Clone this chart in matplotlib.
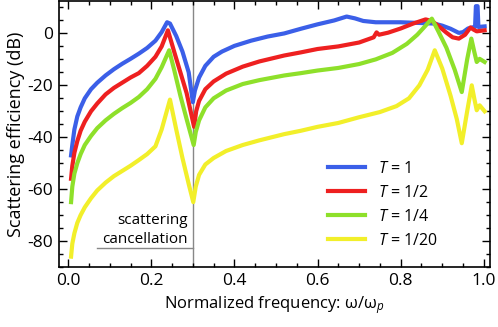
import numpy as np
import matplotlib
matplotlib.use("Agg")
import matplotlib.pyplot as plt

plt.rcParams['font.family'] = ['Open Sans', 'DejaVu Sans']
plt.rcParams['mathtext.fontset'] = 'custom'
plt.rcParams['mathtext.rm'] = 'Open Sans'
plt.rcParams['mathtext.it'] = 'Open Sans:italic'

# T = 1
x_t1 = [0.007, 0.010, 0.015, 0.022, 0.030, 0.040, 0.055, 0.07, 0.09, 0.11, 0.13, 0.15, 0.17,
        0.19, 0.21, 0.225, 0.238, 0.245, 0.26, 0.275, 0.29, 0.300, 0.305, 0.315, 0.33, 0.35,
        0.37, 0.40, 0.44, 0.48, 0.52, 0.56, 0.60, 0.64, 0.67, 0.69, 0.71, 0.74, 0.80, 0.85,
        0.88, 0.90, 0.92, 0.94, 0.95, 0.962, 0.975, 0.979, 0.981, 0.985, 0.987, 1.002]
y_t1 = [-47, -43, -37, -32, -28.5, -25, -21.5, -19, -16.2, -13.8, -11.7, -9.8, -7.8,
        -5.6, -2.8, 0.5, 4.3, 3.8, -1, -7, -15, -26.5, -22, -17, -12.5, -9,
        -7, -4.8, -2.8, -1.2, 0, 1.8, 3.5, 5, 6.5, 5.8, 4.8, 4.3, 4.3, 4,
        3.8, 3, 1.8, 0.2, 0.5, 1.9, 2.4, 2.5, 10.5, 10.5, 2.5, 2.7]

# T = 1/2
x_t2 = [0.007, 0.010, 0.015, 0.022, 0.030, 0.040, 0.055, 0.07, 0.09, 0.11, 0.13, 0.15, 0.17,
        0.19, 0.21, 0.225, 0.240, 0.255, 0.27, 0.285, 0.303, 0.308, 0.315, 0.33, 0.35, 0.38,
        0.42, 0.46, 0.52, 0.56, 0.60, 0.65, 0.70, 0.735, 0.742, 0.748, 0.77, 0.80, 0.83, 0.86,
        0.875, 0.89, 0.91, 0.925, 0.94, 0.955, 0.968, 0.975, 0.983, 1.002]
y_t2 = [-56, -51, -46, -41.5, -37.5, -34, -30, -27, -23.5, -21, -19, -17, -15.3,
        -12.5, -9, -5, 1.2, -7, -15, -23, -36, -30, -26, -21.5, -18.5, -15.5,
        -12.8, -10.8, -8.5, -7.3, -6, -5, -3.5, -1.5, 0.4, -0.5, 0.3, 1.9, 3.8, 5.4,
        4.8, 3, 0.3, -1.5, -2, -0.5, 2.3, 1.5, 0.8, 1.2]

# T = 1/4
x_t4 = [0.007, 0.010, 0.015, 0.022, 0.030, 0.040, 0.055, 0.07, 0.09, 0.11, 0.13, 0.15, 0.17,
        0.19, 0.21, 0.225, 0.243, 0.255, 0.27, 0.285, 0.302, 0.307, 0.315, 0.33, 0.35, 0.38,
        0.42, 0.46, 0.52, 0.56, 0.60, 0.65, 0.70, 0.74, 0.78, 0.815, 0.84, 0.86, 0.875, 0.89,
        0.91, 0.93, 0.947, 0.96, 0.970, 0.977, 0.983, 0.990, 1.002]
y_t4 = [-65, -59, -54, -50, -46.5, -43, -39.5, -36.5, -33.5, -31, -28.8, -26.8, -24.5,
        -21.5, -17.5, -13, -6.5, -14, -24, -33, -43, -38, -33.5, -28.5, -25, -22,
        -19.5, -18, -16.2, -15.3, -14.3, -13.3, -11.8, -10, -7.5, -4, -0.5, 3, 5.7, 1,
        -5.5, -14, -22.6, -10, -2, -7, -11, -9.8, -11]

# T = 1/20
x_t20 = [0.007, 0.010, 0.015, 0.022, 0.030, 0.040, 0.055, 0.07, 0.09, 0.11, 0.13, 0.15, 0.17,
         0.19, 0.21, 0.225, 0.245, 0.26, 0.275, 0.29, 0.301, 0.307, 0.315, 0.33, 0.35, 0.38,
         0.42, 0.46, 0.52, 0.56, 0.60, 0.65, 0.70, 0.75, 0.79, 0.82, 0.845, 0.865, 0.882, 0.90,
         0.92, 0.935, 0.947, 0.96, 0.971, 0.977, 0.983, 0.990, 1.002]
y_t20 = [-86, -81, -77, -73, -70, -67, -63.5, -60.5, -57.5, -55, -53, -51, -48.8,
         -46.5, -43.5, -37, -25.5, -37, -48, -58, -65, -59, -54.5, -50.5, -48, -45.3,
         -43, -41.2, -38.8, -37.5, -36, -34.5, -32.3, -30.3, -28, -25, -20, -14, -6.5, -13.5,
         -24, -33, -42.3, -30, -20, -25, -29.6, -27.7, -30]

labels = ['$T$ = 1', '$T$ = 1/2', '$T$ = 1/4', '$T$ = 1/20']
colors = ['#3b5fe8', '#ee2020', '#8ee02a', '#f2ef2a']

fig = plt.figure(figsize=(4.98, 3.27), dpi=100)
ax = fig.add_axes([0.1185, 0.1835, 0.8655, 0.8135])

for xs, ys, lab, c in zip([x_t1, x_t2, x_t4, x_t20], [y_t1, y_t2, y_t4, y_t20], labels, colors):
    ax.plot(xs, ys, color=c, lw=3, label=lab, solid_joinstyle='round')

# scattering cancellation marker
ax.axvline(0.3, color='#888888', lw=1.0, zorder=0)
ax.plot([0.07, 0.3], [-82.5, -82.5], color='#888888', lw=1.0, zorder=0)
ax.text(0.287, -72, 'scattering', ha='right', va='center', fontsize=11)
ax.text(0.287, -79.5, 'cancellation', ha='right', va='center', fontsize=11)

ax.set_xlim(-0.022, 1.015)
ax.set_ylim(-90, 12.5)
ax.set_xticks([0.0, 0.2, 0.4, 0.6, 0.8, 1.0])
ax.set_xticklabels(['0.0', '0.2', '0.4', '0.6', '0.8', '1.0'])
ax.set_yticks([-80, -60, -40, -20, 0])
ax.set_yticklabels(['-80', '-60', '-40', '-20', '0'])
ax.set_xticks(np.arange(0, 1.01, 0.05), minor=True)
ax.set_yticks(np.arange(-90, 12.5, 5), minor=True)
ax.tick_params(which='both', direction='in', top=True, right=True, labelsize=12.5, width=1, pad=4)
ax.tick_params(which='major', length=6)
ax.tick_params(which='minor', length=3)
for s in ax.spines.values():
    s.set_linewidth(1.2)

ax.set_xlabel('Normalized frequency: ω/ω$_{p}$', fontsize=12, labelpad=4)
ax.set_ylabel('Scattering efficiency (dB)', fontsize=13, labelpad=2)

ax.legend(loc='upper left', bbox_to_anchor=(0.625, 0.40), frameon=False, fontsize=11.5,
          handlelength=2.3, handletextpad=0.8, labelspacing=0.5, borderpad=0, borderaxespad=0)

fig.savefig('out.png', dpi=100)
